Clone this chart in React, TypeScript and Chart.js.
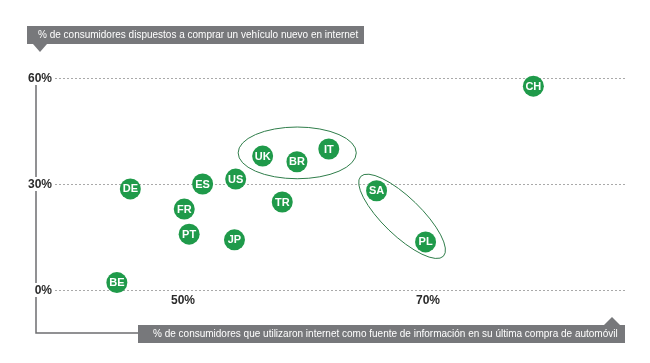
import React, { useEffect, useRef } from "react";
import { Chart, registerables } from "chart.js";

Chart.register(...registerables);

const countries = ["BE", "DE", "FR", "PT", "ES", "US", "JP", "UK", "BR", "IT", "TR", "SA", "PL", "CH"];
const internetInfoPct = [44.6, 45.7, 50.1, 50.5, 51.6, 54.3, 54.2, 56.5, 59.3, 61.9, 58.1, 65.8, 69.8, 78.6];
const willingPct = [2.1, 28.6, 22.9, 15.8, 30.0, 31.4, 14.2, 37.9, 36.3, 39.9, 24.9, 28.1, 13.6, 57.7];

const yTicks = [0, 30, 60];
const yTickLabels = ["0%", "30%", "60%"];
const xTicks = [50, 70];
const xTickLabels = ["50%", "70%"];

const yTitle = "% de consumidores dispuestos a comprar un vehículo nuevo en internet";
const xTitle = "% de consumidores que utilizaron internet como fuente de información en su última compra de automóvil";

const groupA = ["UK", "BR", "IT"];
const groupB = ["SA", "PL"];

const GREEN = "#1f9a4a";
const GREY_BAR = "#77787b";
const FONT = '"Liberation Sans", Arial, Helvetica, sans-serif';

const decorPlugin = {
  id: "decor",
  beforeDatasetsDraw(chart: any) {
    const { ctx, chartArea } = chart;
    const xs = chart.scales.x;
    const ys = chart.scales.y;
    ctx.save();

    // dotted grid lines
    ctx.strokeStyle = "#a9a9a9";
    ctx.lineWidth = 1;
    ctx.setLineDash([2, 2]);
    yTicks.forEach((v) => {
      const y = Math.round(ys.getPixelForValue(v)) + 0.5;
      ctx.beginPath();
      ctx.moveTo(chartArea.left, y);
      ctx.lineTo(chartArea.right, y);
      ctx.stroke();
    });
    ctx.setLineDash([]);

    // axis lines
    ctx.strokeStyle = "#6d6e70";
    ctx.lineWidth = 1.5;
    ctx.beginPath();
    ctx.moveTo(36, ys.getPixelForValue(60));
    ctx.lineTo(36, 333);
    ctx.lineTo(140, 333);
    ctx.stroke();

    // y tick labels
    ctx.font = "bold 12px " + FONT;
    ctx.textBaseline = "middle";
    ctx.textAlign = "right";
    yTicks.forEach((v, i) => {
      const y = ys.getPixelForValue(v);
      const w = ctx.measureText(yTickLabels[i]).width;
      ctx.fillStyle = "#ffffff";
      ctx.fillRect(52 - w - 1, y - 7, w + 2, 14);
      ctx.fillStyle = "#2b2b2b";
      ctx.fillText(yTickLabels[i], 52, y + 1);
    });

    // x tick labels
    ctx.textAlign = "center";
    xTicks.forEach((v, i) => {
      ctx.fillStyle = "#2b2b2b";
      ctx.fillText(xTickLabels[i], xs.getPixelForValue(v), 301);
    });

    // top title bar
    ctx.fillStyle = GREY_BAR;
    ctx.fillRect(27, 26, 337, 18);
    ctx.beginPath();
    ctx.moveTo(33, 44);
    ctx.lineTo(47, 44);
    ctx.lineTo(40, 52);
    ctx.closePath();
    ctx.fill();
    ctx.fillStyle = "#ffffff";
    ctx.font = "10px " + FONT;
    ctx.textAlign = "left";
    ctx.fillText(yTitle, 38, 35.5);

    // bottom title bar
    ctx.fillStyle = GREY_BAR;
    ctx.fillRect(138, 325, 487, 18);
    ctx.beginPath();
    ctx.moveTo(604, 325);
    ctx.lineTo(620, 325);
    ctx.lineTo(612, 317);
    ctx.closePath();
    ctx.fill();
    ctx.fillStyle = "#ffffff";
    ctx.fillText(xTitle, 153, 334.5);

    // group ellipses
    const meta = chart.getDatasetMeta(0);
    const pos = (c: string) => {
      const el = meta.data[countries.indexOf(c)];
      return { x: el.x, y: el.y };
    };
    ctx.strokeStyle = "#2f7d4a";
    ctx.lineWidth = 1;

    const pa = groupA.map(pos);
    const minX = Math.min(...pa.map((p) => p.x));
    const maxX = Math.max(...pa.map((p) => p.x));
    const minY = Math.min(...pa.map((p) => p.y));
    const maxY = Math.max(...pa.map((p) => p.y));
    ctx.beginPath();
    ctx.ellipse((minX + maxX) / 2 + 1.5, (minY + maxY) / 2 - 2.5, (maxX - minX) / 2 + 26, (maxY - minY) / 2 + 19.5, 0, 0, Math.PI * 2);
    ctx.stroke();

    const pb = groupB.map(pos);
    const cx = (pb[0].x + pb[1].x) / 2 + 1;
    const cy = (pb[0].y + pb[1].y) / 2;
    const ang = Math.atan2(pb[1].y - pb[0].y, pb[1].x - pb[0].x) - 0.04;
    const half = Math.hypot(pb[1].x - pb[0].x, pb[1].y - pb[0].y) / 2;
    ctx.beginPath();
    ctx.ellipse(cx, cy, half + 22, 19, ang, 0, Math.PI * 2);
    ctx.stroke();

    ctx.restore();
  },
  afterDatasetsDraw(chart: any) {
    const { ctx } = chart;
    const meta = chart.getDatasetMeta(0);
    ctx.save();
    ctx.fillStyle = "#ffffff";
    ctx.font = "bold 11px " + FONT;
    ctx.textAlign = "center";
    ctx.textBaseline = "middle";
    meta.data.forEach((el: any, i: number) => {
      ctx.fillText(countries[i], el.x, el.y + 0.5);
    });
    ctx.restore();
  },
};

export default function App() {
  const ref = useRef<HTMLCanvasElement | null>(null);
  useEffect(() => {
    if (!ref.current) return;
    const chart = new Chart(ref.current, {
      type: "scatter",
      data: {
        datasets: [
          {
            data: countries.map((_, i) => ({ x: internetInfoPct[i], y: willingPct[i] })),
            backgroundColor: GREEN,
            borderWidth: 0,
            pointRadius: 10.5,
            pointHoverRadius: 10.5,
            clip: false as any,
          },
        ],
      },
      options: {
        responsive: false,
        animation: false,
        layout: { padding: { left: 55, right: 25, top: 78, bottom: 73 } },
        scales: {
          x: { type: "linear", min: 39.55, max: 86.08, display: false },
          y: { type: "linear", min: 0, max: 60, display: false },
        },
        plugins: { legend: { display: false }, tooltip: { enabled: false } },
        events: [],
      },
      plugins: [decorPlugin],
    });
    return () => chart.destroy();
  }, []);
  return (
    <div style={{ position: "absolute", left: 0, top: 0, width: 650, height: 363, background: "#fff" }}>
      <canvas ref={ref} width={650} height={363} style={{ display: "block" }} />
    </div>
  );
}
